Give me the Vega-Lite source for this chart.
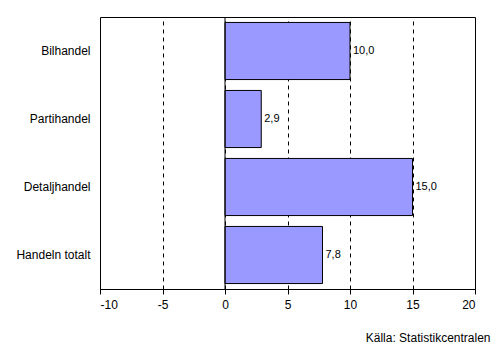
{
  "$schema": "https://vega.github.io/schema/vega-lite/v6.json",
  "width": 375,
  "height": 272,
  "autosize": {"type": "none"},
  "padding": {"left": 100, "top": 17, "right": 26, "bottom": 64},
  "background": "white",
  "config": {
    "locale": {"number": {"decimal": ",", "thousands": " ", "grouping": [3], "currency": ["", " €"], "minus": "-"}},
    "view": {"stroke": "black", "strokeWidth": 1},
    "font": "Liberation Sans"
  },
  "title": {
    "text": "Källa: Statistikcentralen",
    "orient": "bottom",
    "anchor": "end",
    "dx": 15,
    "offset": 23,
    "fontSize": 12,
    "fontWeight": "normal",
    "font": "Liberation Sans",
    "color": "black"
  },
  "data": {
    "values": [
      {"kategori": "Bilhandel", "varde": 10.0},
      {"kategori": "Partihandel", "varde": 2.9},
      {"kategori": "Detaljhandel", "varde": 15.0},
      {"kategori": "Handeln totalt", "varde": 7.8}
    ]
  },
  "layer": [
    {
      "mark": {"type": "bar", "fill": "#9999FF", "stroke": "black", "strokeWidth": 1},
      "encoding": {
        "y": {
          "field": "kategori",
          "type": "nominal",
          "sort": null,
          "scale": {"paddingInner": 0.16, "paddingOuter": 0.08},
          "axis": {
            "title": null,
            "domain": false,
            "ticks": false,
            "labelFontSize": 12,
            "labelColor": "black",
            "labelPadding": 10,
            "labelFont": "Liberation Sans"
          }
        },
        "x": {
          "field": "varde",
          "type": "quantitative",
          "scale": {"domain": [-10, 20], "nice": false},
          "axis": {
            "title": null,
            "values": [-10, -5, 0, 5, 10, 15, 20],
            "format": "d",
            "grid": true,
            "gridColor": "black",
            "gridDash": [4, 4],
            "gridOpacity": 1,
            "domainColor": "black",
            "tickColor": "black",
            "tickSize": 5,
            "labelFontSize": 12,
            "labelColor": "black",
            "labelPadding": 5,
            "labelFont": "Liberation Sans"
          }
        }
      }
    },
    {
      "mark": {"type": "rule", "color": "black", "strokeWidth": 1},
      "data": {"values": [{"noll": 0}]},
      "encoding": {"x": {"field": "noll", "type": "quantitative"}}
    },
    {
      "mark": {"type": "text", "align": "left", "dx": 3, "fontSize": 11, "color": "black", "font": "Liberation Sans"},
      "encoding": {
        "y": {"field": "kategori", "type": "nominal", "sort": null},
        "x": {"field": "varde", "type": "quantitative"},
        "text": {"field": "varde", "type": "quantitative", "format": ".1f"}
      }
    }
  ]
}
